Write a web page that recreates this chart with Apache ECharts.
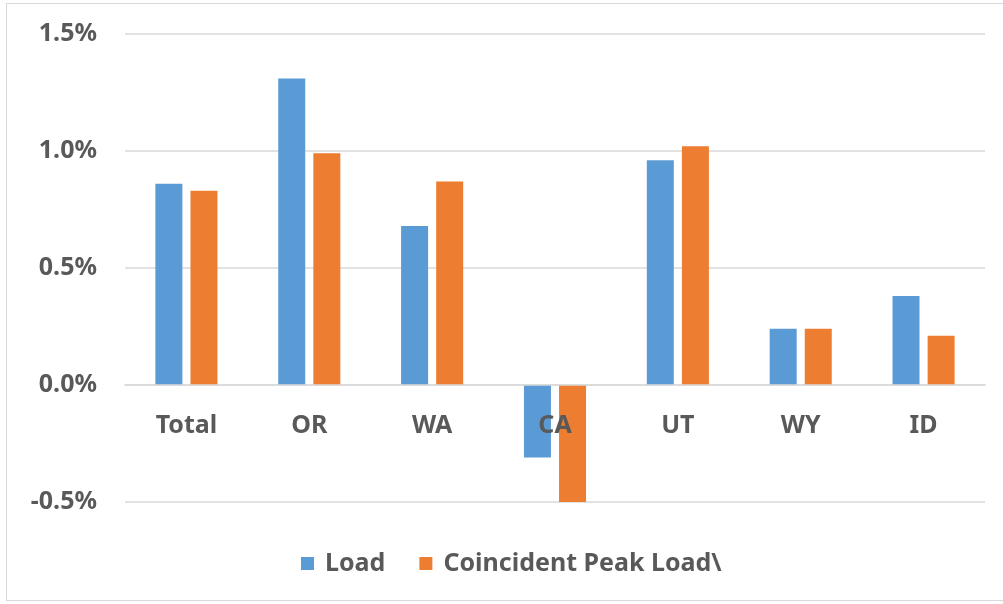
<!DOCTYPE html>
<html>
<head>
<meta charset="utf-8">
<script src="https://cdn.jsdelivr.net/npm/echarts@6/dist/echarts.min.js"></script>
<style>
html,body{margin:0;padding:0;background:#fff;}
#frame{position:absolute;left:6px;top:3px;width:1010px;height:598px;border:1px solid #d9d9d9;box-sizing:border-box;}
#chart{position:absolute;left:0;top:0;width:1003px;height:604px;}
</style>
</head>
<body>
<div id="frame"></div>
<div id="chart"></div>
<script>
const categories = ['Total', 'OR', 'WA', 'CA', 'UT', 'WY', 'ID'];
const loadValues = [0.86, 1.31, 0.68, -0.31, 0.96, 0.24, 0.38];
const peakValues = [0.83, 0.99, 0.87, -0.50, 1.02, 0.24, 0.21];
const seriesNames = ['Load', 'Coincident Peak Load\\'];
const yTicks = { min: -0.5, max: 1.5, interval: 0.5 };

const font = 'Noto Sans';
const txt = '#595959';
const gridTop = 34, gridBottom = 102, chartH = 604;
const plotH = chartH - gridTop - gridBottom;
const zeroOffset = -plotH * (0 - yTicks.min) / (yTicks.max - yTicks.min);

const chart = echarts.init(document.getElementById('chart'));
chart.setOption({
  animation: false,
  grid: { left: 125, right: 18, top: gridTop, bottom: gridBottom },
  legend: {
    left: 296, top: 546,
    itemWidth: 13, itemHeight: 13, itemGap: 34,
    icon: 'rect',
    textStyle: { fontFamily: font, fontSize: 25, fontWeight: 'bold', color: txt, padding: [0, 0, 0, 6] },
    data: seriesNames
  },
  xAxis: {
    type: 'category',
    data: categories,
    z: 10,
    offset: zeroOffset,
    axisLine: { onZero: false, lineStyle: { color: '#d9d9d9', width: 1.5 } },
    axisTick: { show: false },
    axisLabel: { margin: 28, fontFamily: font, fontSize: 25, fontWeight: 'bold', color: txt }
  },
  yAxis: {
    type: 'value',
    min: yTicks.min, max: yTicks.max, interval: yTicks.interval,
    axisLine: { show: false },
    axisTick: { show: false },
    splitLine: { lineStyle: { color: '#d9d9d9', width: 1.5 } },
    axisLabel: { margin: 28, fontFamily: font, fontSize: 25, fontWeight: 'bold', color: txt,
      formatter: v => v.toFixed(1) + '%' }
  },
  series: [
    { name: seriesNames[0], type: 'bar', data: loadValues, barWidth: 27, barGap: '30%', itemStyle: { color: '#5B9BD5' } },
    { name: seriesNames[1], type: 'bar', data: peakValues, barWidth: 27, barGap: '30%', itemStyle: { color: '#ED7D31' } }
  ]
});
</script>
</body>
</html>
